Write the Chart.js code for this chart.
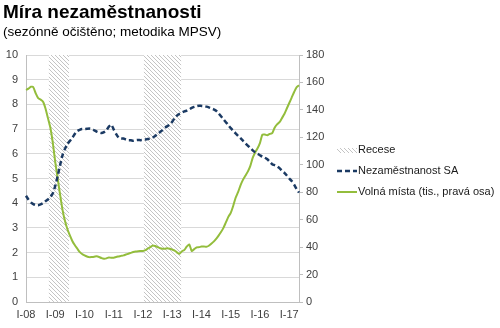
<!DOCTYPE html>
<html><head><meta charset="utf-8">
<script src="https://cdn.jsdelivr.net/npm/chart.js@4"></script>
<style>html,body{margin:0;padding:0;background:#fff}#w{position:relative;width:500px;height:328px}</style>
</head><body><div id="w"><canvas id="c"></canvas></div>
<script>
// Year tick labels (January of each year)
const yearTicks = ['I-08','I-09','I-10','I-11','I-12','I-13','I-14','I-15','I-16','I-17'];
// Monthly categories Jan 2008 - May 2017 (113 months); only Januaries labelled
const categories = [];
for (let y = 0; y < yearTicks.length; y++) for (let m = 0; m < 12; m++) {
  if (categories.length < 113) categories.push(m === 0 ? yearTicks[y] : '');
}
// Unemployment rate SA (%), left axis
const unemployment = [
4.30,4.15,4.03,3.96,3.92,3.92,3.95,4.00,4.08,4.15,4.25,4.40,
4.70,5.10,5.55,5.95,6.20,6.40,6.52,6.65,6.80,6.92,6.97,7.00,
7.00,7.01,7.02,7.00,6.95,6.90,6.86,6.84,6.88,6.95,7.10,7.18,
6.98,6.80,6.66,6.62,6.62,6.58,6.55,6.55,6.53,6.55,6.56,6.55,
6.56,6.58,6.60,6.62,6.66,6.72,6.80,6.88,6.96,7.05,7.12,7.18,
7.30,7.45,7.55,7.62,7.67,7.72,7.75,7.80,7.86,7.90,7.93,7.95,
7.94,7.93,7.91,7.88,7.84,7.80,7.74,7.64,7.52,7.40,7.28,7.16,
7.04,6.93,6.83,6.73,6.63,6.53,6.43,6.33,6.24,6.14,6.06,6.00,
5.94,5.88,5.84,5.78,5.68,5.58,5.54,5.50,5.42,5.32,5.23,5.12,
5.00,4.90,4.75,4.58,4.43];
// Vacancies (thousands), right axis
const vacancies = [
154.5,155.5,156.9,156.5,152.0,148.5,147.5,146.0,141.0,134.0,127.0,116.0,
102.0,90.0,78.0,67.0,59.0,53.0,48.5,44.5,41.5,39.0,36.5,35.0,
34.0,33.2,32.7,32.8,33.0,33.3,32.8,32.0,31.6,31.8,32.5,32.2,
32.3,32.8,33.2,33.6,34.0,34.6,35.2,35.8,36.4,36.8,37.0,37.1,
37.2,37.8,39.0,40.0,41.2,40.8,40.0,39.2,38.8,38.8,39.2,38.8,
38.2,37.5,36.0,35.2,37.0,38.0,40.5,41.9,37.1,38.5,39.8,40.0,
40.4,40.5,40.2,41.0,42.5,44.0,46.0,48.4,51.0,54.0,58.0,62.0,
65.0,70.0,76.0,80.0,85.0,89.0,92.0,95.0,99.0,105.0,109.0,112.0,
116.0,122.0,122.0,121.5,122.5,123.0,127.0,129.5,131.0,134.0,137.0,141.0,
145.0,149.0,153.0,156.5,158.0];
// Recession flags (1 = recession month)
const recession = [
0,0,0,0,0,0,0,0,0,0,1,1,
1,1,1,1,1,1,0,0,0,0,0,0,
0,0,0,0,0,0,0,0,0,0,0,0,
0,0,0,0,0,0,0,0,0,0,0,0,
0,1,1,1,1,1,1,1,1,1,1,1,
1,1,1,1,0,0,0,0,0,0,0,0,
0,0,0,0,0,0,0,0,0,0,0,0,
0,0,0,0,0,0,0,0,0,0,0,0,
0,0,0,0,0,0,0,0,0,0,0,0,
0,0,0,0,0];

function hatch(){
  const c=document.createElement('canvas'); c.width=4; c.height=4;
  const x=c.getContext('2d'); x.fillStyle='#ffffff'; x.fillRect(0,0,4,4);
  x.strokeStyle='#c4c4c4'; x.lineWidth=1;
  x.beginPath(); x.moveTo(0,0); x.lineTo(4,4); x.moveTo(-1,3); x.lineTo(1,5); x.moveTo(3,-1); x.lineTo(5,1); x.stroke();
  return x.createPattern(c,'repeat');
}
const FONT = "'Liberation Sans', Arial, sans-serif";
Chart.defaults.font.family = FONT;
Chart.defaults.color = '#404040';

// Legend drawn at the right, from the datasets' own styles
const sideLegend = {
  id:'sideLegend',
  afterDraw(chart){
    const ctx = chart.ctx, ca = chart.chartArea;
    const x0 = ca.right + 38, y0 = 150, step = 21, sw = 20;
    ctx.save();
    ctx.font = '11px ' + FONT; ctx.textBaseline = 'middle'; ctx.fillStyle = '#1a1a1a';
    chart.data.datasets.forEach((ds, i) => {
      const y = y0 + i*step;
      if (ds.type === 'bar') {
        ctx.fillStyle = ds.backgroundColor; ctx.fillRect(x0, y-2, sw, 5);
      } else {
        ctx.strokeStyle = ds.borderColor; ctx.lineWidth = ds.borderWidth;
        ctx.setLineDash(ds.borderDash || []);
        ctx.beginPath(); ctx.moveTo(x0, y); ctx.lineTo(x0+sw, y); ctx.stroke();
        ctx.setLineDash([]);
      }
      ctx.fillStyle = '#1a1a1a';
      ctx.fillText(ds.label, x0 + sw + 1, y);
    });
    ctx.restore();
  }
};

new Chart(document.getElementById('c'), {
  data: {
    labels: categories,
    datasets: [
      { type:'bar', label:'Recese', data: recession.map(v => v ? 10 : null), yAxisID:'y',
        backgroundColor: hatch(), borderWidth:0, barPercentage:1, categoryPercentage:1, order:3 },
      { type:'line', label:'Nezaměstnanost SA', data: unemployment, yAxisID:'y',
        borderColor:'#1b3a63', borderWidth:2.5, borderDash:[5,3], pointRadius:0, tension:0.2, order:1, fill:false },
      { type:'line', label:'Volná místa (tis., pravá osa)', data: vacancies, yAxisID:'y2',
        borderColor:'#93bd3c', borderWidth:2, pointRadius:0, tension:0.2, order:2, fill:false }
    ]
  },
  plugins:[sideLegend],
  options: {
    responsive:true, maintainAspectRatio:false, animation:false,
    layout:{ padding:{ left:3, right:171, top:0, bottom:4 } },
    plugins:{
      title:{ display:true, text:'Míra nezaměstnanosti', align:'start', color:'#000',
        font:{ size:19, weight:'bold', family:FONT }, padding:{ top:1, bottom:0 } },
      subtitle:{ display:true, text:'(sezónně očištěno; metodika MPSV)', align:'start', color:'#000',
        font:{ size:13.5, family:FONT }, padding:{ top:0, bottom:15 } },
      legend:{ display:false },
      tooltip:{ enabled:false }
    },
    scales:{
      x:{ type:'category', offset:false,
        grid:{ display:false, tickLength:0 }, border:{ display:true, color:'#bfbfbf' },
        ticks:{ autoSkip:false, maxRotation:0, minRotation:0, padding:6, font:{ size:11 }, color:'#404040' },
        afterFit:(s)=>{ s.height = 22; } },
      y:{ position:'left', min:0, max:10,
        ticks:{ stepSize:1, padding:8, font:{ size:11 }, color:'#404040' },
        grid:{ color:'#d9d9d9', drawTicks:false }, border:{ display:true, color:'#bfbfbf' },
        afterFit:(s)=>{ s.width = 23; } },
      y2:{ position:'right', min:0, max:180,
        ticks:{ stepSize:20, padding:3, font:{ size:11 }, color:'#404040' },
        grid:{ drawOnChartArea:false, color:'#bfbfbf', tickLength:4 }, border:{ display:true, color:'#bfbfbf' },
        afterFit:(s)=>{ s.width = 30; } }
    }
  }
});
</script></body></html>
